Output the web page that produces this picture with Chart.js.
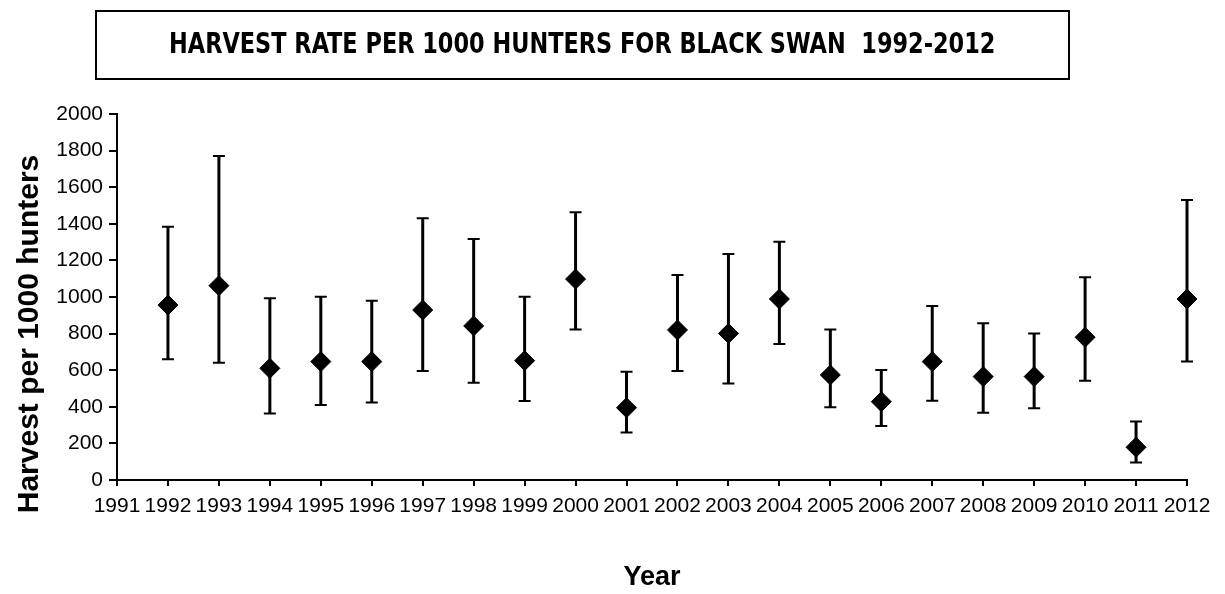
<!DOCTYPE html>
<html>
<head>
<meta charset="utf-8">
<script src="https://cdn.jsdelivr.net/npm/chart.js@4"></script>
<style>
  body { margin: 0; background: #fff; }
  #wrap { position: relative; width: 1225px; height: 594px; }
  #titleBox {
    position: absolute; left: 95px; top: 10px; width: 971px; height: 66px;
    border: 2px solid #000; display: flex; align-items: center; justify-content: center;
    font-family: 'Liberation Sans Narrow', 'DejaVu Sans Condensed', 'Liberation Sans', sans-serif;
    font-weight: bold; font-size: 28px; color: #000; white-space: pre;
  }
  #titleBox span { display: inline-block; transform: scaleX(0.89); margin-top: -4px; }
</style>
</head>
<body>
<div id="wrap">
  <canvas id="chart"></canvas>
  <div id="titleBox"><span>HARVEST RATE PER 1000 HUNTERS FOR BLACK SWAN  1992-2012</span></div>
</div>
<script>
const years = [1992, 1993, 1994, 1995, 1996, 1997, 1998, 1999, 2000, 2001, 2002,
               2003, 2004, 2005, 2006, 2007, 2008, 2009, 2010, 2011, 2012];
const harvest = [956, 1062, 610, 647, 647, 929, 842, 652, 1098, 395, 820,
                 801, 989, 574, 428, 647, 565, 565, 780, 179, 989];
const upper = [1384, 1770, 993, 1002, 980, 1430, 1317, 1002, 1463, 592, 1120,
               1235, 1302, 823, 601, 951, 856, 801, 1108, 319, 1530];
const lower = [660, 641, 364, 410, 424, 596, 532, 432, 823, 260, 596,
               528, 743, 397, 295, 433, 368, 392, 543, 95, 647];
const yTitle = 'Harvest per 1000 hunters';
const xTitle = 'Year';

// error bars, drawn under the diamonds
const errorBars = {
    id: 'errorBars',
    beforeDatasetsDraw(chart) {
        const ctx = chart.ctx;
        const x = chart.scales.x, y = chart.scales.y;
        ctx.save();
        ctx.strokeStyle = '#000';
        years.forEach((yr, i) => {
            const px = x.getPixelForValue(yr);
            const top = y.getPixelForValue(upper[i]);
            const bot = y.getPixelForValue(lower[i]);
            ctx.lineWidth = 3;
            ctx.beginPath();
            ctx.moveTo(px, top);
            ctx.lineTo(px, bot);
            ctx.stroke();
            ctx.lineWidth = 2;
            ctx.beginPath();
            ctx.moveTo(px - 6, top); ctx.lineTo(px + 6, top);
            ctx.moveTo(px - 6, bot); ctx.lineTo(px + 6, bot);
            ctx.stroke();
        });
        ctx.restore();
    }
};

// y axis title, placed like the original (a bit below centre)
const yLabel = {
    id: 'yLabel',
    afterDraw(chart) {
        const ctx = chart.ctx;
        ctx.save();
        ctx.translate(30, 334);
        ctx.rotate(-Math.PI / 2);
        ctx.font = "bold 30px 'Liberation Sans', Arial, sans-serif";
        ctx.fillStyle = '#000';
        ctx.textAlign = 'center';
        ctx.textBaseline = 'middle';
        ctx.fillText(yTitle, 0, 0);
        ctx.restore();
    }
};

const tickFont = { family: "'Liberation Sans', Arial, sans-serif", size: 21 };

new Chart(document.getElementById('chart'), {
    type: 'scatter',
    data: {
        datasets: [{
            data: years.map((yr, i) => ({ x: yr, y: harvest[i] })),
            pointStyle: 'rectRot',
            pointRadius: 10,
            pointHoverRadius: 10,
            backgroundColor: '#000',
            borderColor: '#000',
            borderWidth: 1,
            clip: false
        }]
    },
    options: {
        responsive: true,
        maintainAspectRatio: false,
        animation: false,
        layout: { padding: { top: 114, right: 38, bottom: 0, left: 0 } },
        plugins: { legend: { display: false }, tooltip: { enabled: false } },
        scales: {
            x: {
                type: 'linear',
                min: 1991,
                max: 2012,
                border: { color: '#000', width: 2 },
                grid: { drawOnChartArea: false, color: '#000', tickLength: 6, lineWidth: 2 },
                ticks: {
                    stepSize: 1, autoSkip: false, maxRotation: 0, padding: 8,
                    color: '#000', font: tickFont,
                    callback: v => String(v)
                },
                title: {
                    display: true, text: xTitle, color: '#000', padding: 0,
                    font: { family: "'Liberation Sans', Arial, sans-serif", size: 27, weight: 'bold' }
                },
                afterFit(scale) { scale.height = 114; }
            },
            y: {
                min: 0,
                max: 2000,
                border: { color: '#000', width: 2 },
                grid: { drawOnChartArea: false, color: '#000', tickLength: 8, lineWidth: 2 },
                ticks: {
                    stepSize: 200, padding: 6, color: '#000', font: tickFont,
                    callback: v => String(v)
                },
                afterFit(scale) { scale.width = 117; }
            }
        }
    },
    plugins: [errorBars, yLabel]
});
</script>
</body>
</html>
